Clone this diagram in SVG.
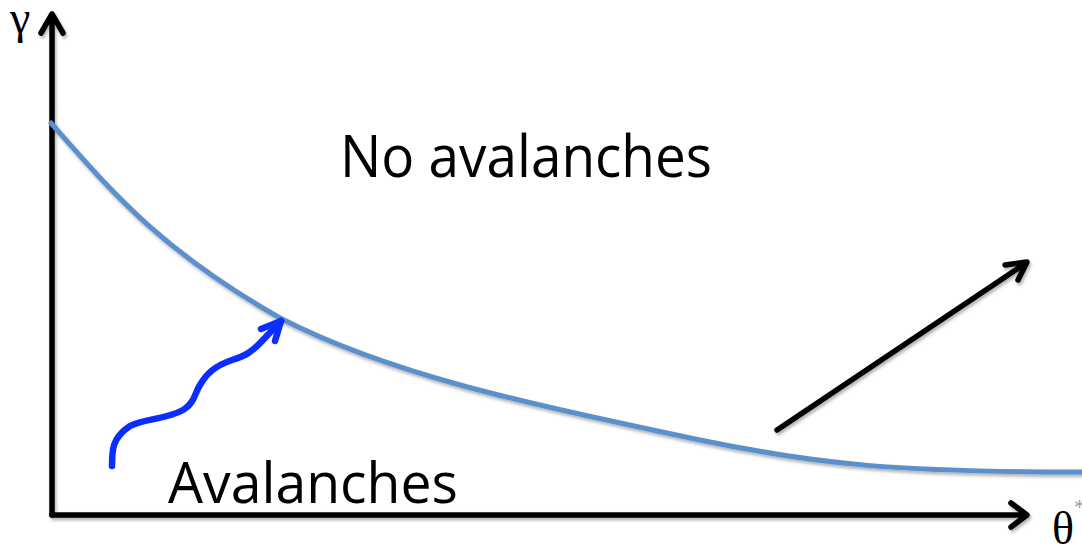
<svg xmlns="http://www.w3.org/2000/svg" width="1082" height="546" viewBox="0 0 1082 546">
<defs>
<filter id="sh" x="-10%" y="-10%" width="120%" height="130%">
<feDropShadow dx="1.5" dy="2.5" stdDeviation="1.5" flood-color="#000" flood-opacity="0.3"/>
</filter>
</defs>
<style>
.ax{fill:none;stroke:#000;stroke-width:5.5;stroke-linecap:round;stroke-linejoin:round}
.curve{fill:none;stroke:#5b90cc;stroke-width:5;stroke-linecap:round}
.sq{fill:none;stroke:#0b2dff;stroke-width:6.5;stroke-linecap:round;stroke-linejoin:round}
.lbl{font-family:"Open Sans","Liberation Sans",sans-serif;fill:#000}
.sym{font-family:"Liberation Serif","DejaVu Serif",serif;fill:#000}
</style>
<rect width="1082" height="546" fill="#fff"/>
<g id="axes" filter="url(#sh)">
<path class="ax" d="M52,515 L52,15"/>
<path class="ax" d="M41,33 L52,14 L63,33"/>
<path class="ax" d="M52,515 L1026,515"/>
<path class="ax" d="M1011,503 L1027,515 L1011,527"/>
</g>
<g id="boundary" filter="url(#sh)">
<path class="curve" d="M51,123 C110,190 160,250 280,318 C400,380 560,410 700,440 C820,465 900,472 1082,472"/>
</g>
<g id="connectors">
<g id="squiggle">
<path class="sq" d="M112,466 C112,450 112,438 130,426 C145,418 165,420 183,410 C195,403 195,392 200,385 C207,373 215,366 232,360 C245,356 252,352 262,341 L281,321"/>
<path class="sq" d="M261,329 L281,321 L275,341"/>
</g>
<g id="trend" filter="url(#sh)">
<path class="ax" d="M777,430 L1026,263"/>
<path class="ax" d="M1005,265 L1027,262 L1018,280"/>
</g>
</g>
<g id="labels">
<text class="sym" x="10" y="33" font-size="46">γ</text>
<text class="sym" x="1052" y="544" font-size="46">θ<tspan font-size="22" dy="-30" fill="#999">*</tspan></text>
<text class="lbl" x="340" y="177" font-size="58" textLength="372" lengthAdjust="spacingAndGlyphs">No avalanches</text>
<text class="lbl" x="168" y="503" font-size="56" textLength="290" lengthAdjust="spacingAndGlyphs">Avalanches</text>
</g>
</svg>
